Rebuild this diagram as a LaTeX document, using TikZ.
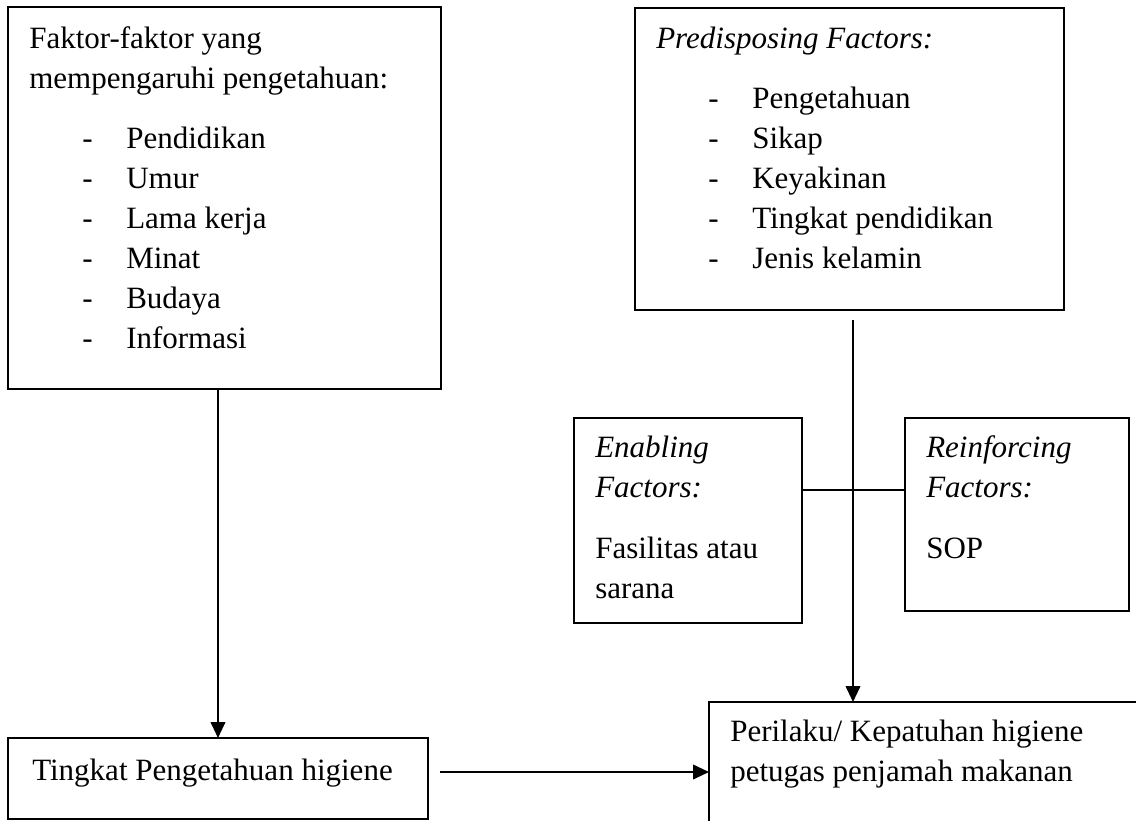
\documentclass[tikz,border=0pt]{standalone}
\usepackage{fontspec}
\setmainfont{Liberation Serif}
\usetikzlibrary{arrows.meta}
\begin{document}
\begin{tikzpicture}[x=0.75pt,y=-0.75pt,
  box/.style={draw, line width=1.2pt, rectangle, inner sep=0pt, outer sep=0pt},
  txt/.style={anchor=base west, inner sep=0pt, font=\fontsize{23.25}{30}\selectfont},
  itxt/.style={anchor=base west, inner sep=0pt, font=\fontsize{23.25}{30}\selectfont\itshape},
  conn/.style={line width=1.4pt},
  arr/.style={line width=1.4pt, -{Triangle[length=12pt,width=11pt]}}]
\useasboundingbox (0,0) rectangle (1136,821);
\clip (0,0) rectangle (1136,821);

% boxes
\node[box, minimum width=433*0.75pt, minimum height=382*0.75pt] (b1) at (224.5,198) {};
\node[box, minimum width=429*0.75pt, minimum height=302*0.75pt] (pre) at (849.5,159) {};
\node[box, minimum width=228*0.75pt, minimum height=205*0.75pt] (en) at (688,520.5) {};
\node[box, minimum width=224*0.75pt, minimum height=193*0.75pt] (re) at (1017,514.5) {};
\node[box, minimum width=420*0.75pt, minimum height=81*0.75pt] (tk) at (218,778.5) {};
\node[box, minimum width=451*0.75pt, minimum height=148*0.75pt] (per) at (934.5,776) {};

% box 1 text
\node[txt] (b1t1) at (29,48) {Faktor-faktor yang};
\node[txt] (b1t2) at (29,88) {mempengaruhi pengetahuan:};
\foreach \y/\t [count=\i] in {148/Pendidikan,188/Umur,228/Lama kerja,268/Minat,308/Budaya,348/Informasi}{
  \node[txt] (b1d\i) at (82,\y) {-};
  \node[txt] (b1i\i) at (126,\y) {\t};
}

% predisposing text
\node[itxt] (pret) at (656,48) {Predisposing Factors:};
\foreach \y/\t [count=\i] in {108/Pengetahuan,148/Sikap,188/Keyakinan,228/Tingkat pendidikan,268/Jenis kelamin}{
  \node[txt] (pred\i) at (708,\y) {-};
  \node[txt] (prei\i) at (752,\y) {\t};
}

% enabling
\node[itxt] (ent1) at (595,457) {Enabling};
\node[itxt] (ent2) at (595,497) {Factors:};
\node[txt] (ent3) at (595,558) {Fasilitas atau};
\node[txt] (ent4) at (595,598) {sarana};

% reinforcing
\node[itxt] (ret1) at (926,457) {Reinforcing};
\node[itxt] (ret2) at (926,497) {Factors:};
\node[txt] (ret3) at (926,558) {SOP};

% tingkat
\node[txt] (tkt) at (32,780) {Tingkat Pengetahuan higiene};

% perilaku
\node[txt] (pert1) at (730,741) {Perilaku/ Kepatuhan higiene};
\node[txt] (pert2) at (730,781) {petugas penjamah makanan};

% connectors
\coordinate (p1) at (853,320);
\coordinate (j) at (853,490);
\coordinate (h) at (440,772);
\draw[arr] (b1.south -| tk.north) -- (tk.north);
\draw[arr] (p1) -- (p1 |- per.north);
\draw[conn] (j -| en.east) -- (j -| re.west);
\draw[arr] (h) -- (h -| per.west);
\end{tikzpicture}
\end{document}
